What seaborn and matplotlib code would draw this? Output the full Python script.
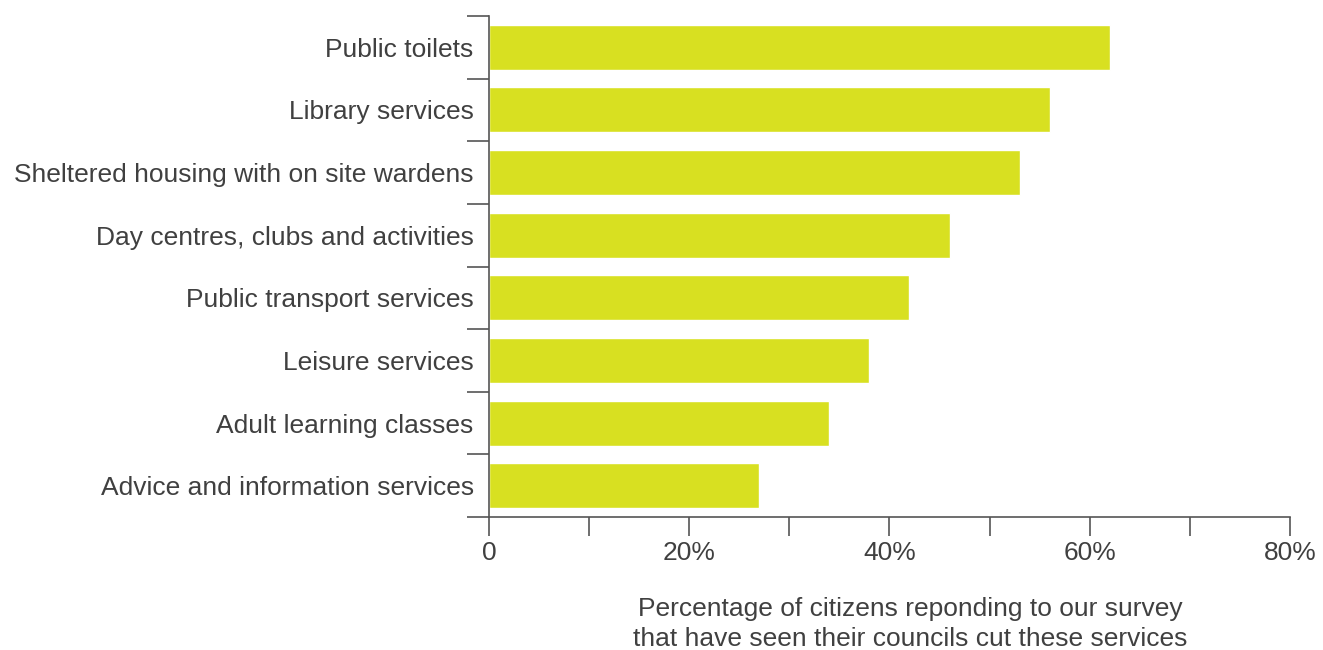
import seaborn as sns
import numpy as np
import pandas as pd
import matplotlib.pyplot as plt

services = ['Public toilets', 'Library services', 'Sheltered housing with on site wardens',
            'Day centres, clubs and activities', 'Public transport services',
            'Leisure services', 'Adult learning classes', 'Advice and information services']
pct_cut = [62, 56, 53, 46, 42, 38, 34, 27]
x_ticks = [0, 10, 20, 30, 40, 50, 60, 70, 80]
x_tick_labels = ['0', '', '20%', '', '40%', '', '60%', '', '80%']

df = pd.DataFrame({'service': services, 'pct': pct_cut})

sns.set_style('white')
plt.rcParams['font.family'] = ['Liberation Sans', 'DejaVu Sans']
text_c = '#404040'
line_c = '#555555'

f, ax = plt.subplots(figsize=(13.23, 6.5), dpi=100)
f.subplots_adjust(left=0.3696, right=0.975, top=0.9754, bottom=0.2046)

sns.barplot(data=df, y='service', x='pct', color='#d8e021', saturation=1,
            width=0.72, orient='h', ax=ax)

ax.set_xlim(0, 80)
ax.set_ylim(len(services) - 0.5, -0.5)
ax.set_xticks(x_ticks)
ax.set_xticklabels(x_tick_labels, fontsize=19, color=text_c)

# category labels in the middle, tick marks on the boundaries
ax.set_yticks(np.arange(len(services)))
ax.set_yticklabels(services, fontsize=19, color=text_c)
ax.tick_params(axis='y', which='major', left=True, length=0, pad=11)
ax.set_yticks(np.arange(len(services) + 1) - 0.5, minor=True)
ax.tick_params(axis='y', which='minor', left=True, length=16, width=1.2, color=line_c, direction='out')
ax.tick_params(axis='x', bottom=True, length=14, width=1.2, color=line_c, direction='out', pad=3)

for s in ['top', 'right']:
    ax.spines[s].set_visible(False)
for s in ['left', 'bottom']:
    ax.spines[s].set_color(line_c)
    ax.spines[s].set_linewidth(1.2)

ax.set_ylabel('')
ax.set_xlabel('Percentage of citizens reponding to our survey\nthat have seen their councils cut these services',
              fontsize=19, color=text_c, linespacing=1.3)
ax.xaxis.set_label_coords(0.526, -0.16, transform=ax.transAxes)
ax.xaxis.label.set_va('top')

plt.savefig('out.png', dpi=100)
